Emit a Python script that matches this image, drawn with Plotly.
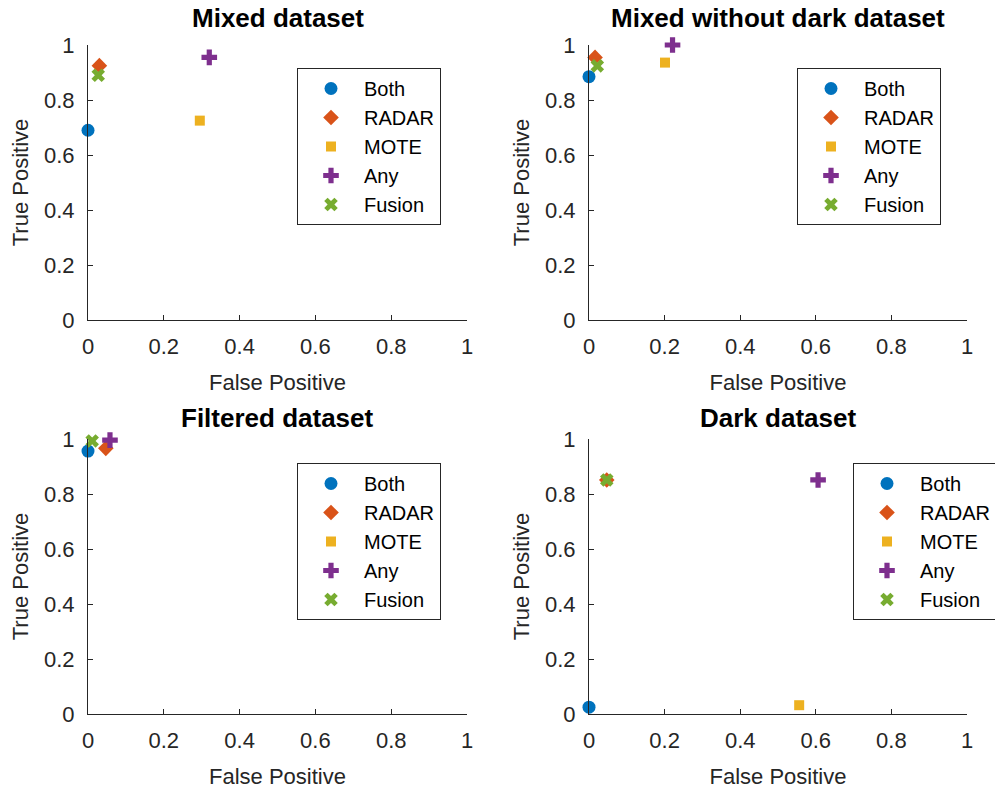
import plotly.graph_objects as go

methods = ["Both", "RADAR", "MOTE", "Any", "Fusion"]
colors = ["#0072BD", "#D95319", "#EDB120", "#7E2F8E", "#77AC30"]
symbols = ["circle", "diamond", "square", "cross", "x"]
msizes = [13, 12, 10, 13, 12]

titles = ["Mixed dataset", "Mixed without dark dataset", "Filtered dataset", "Dark dataset"]

fp_mixed = [0.0, 0.030, 0.295, 0.320, 0.027]
tp_mixed = [0.690, 0.925, 0.725, 0.955, 0.890]

fp_mixed_nodark = [0.0, 0.016, 0.201, 0.221, 0.022]
tp_mixed_nodark = [0.885, 0.955, 0.936, 1.0, 0.924]

fp_filtered = [0.0, 0.047, None, 0.058, 0.011]
tp_filtered = [0.956, 0.966, None, 0.996, 0.993]

fp_dark = [0.0, 0.047, 0.556, 0.606, 0.047]
tp_dark = [0.025, 0.851, 0.032, 0.851, 0.851]

tick_vals = [0, 0.2, 0.4, 0.6, 0.8, 1]
tick_text = ["0", "0.2", "0.4", "0.6", "0.8", "1"]

datasets = [(fp_mixed, tp_mixed), (fp_mixed_nodark, tp_mixed_nodark),
            (fp_filtered, tp_filtered), (fp_dark, tp_dark)]

W, H = 995, 792
# axes pixel boxes: (x0, x1, ytop, ybottom)
boxes = [(88, 467, 45, 320), (589, 967, 45, 320), (88, 467, 439, 714), (589, 967, 439, 714)]
legend_pos = [(297, 68), (797, 68), (297, 463), (853, 463)]

FONT = "Liberation Sans, Arial, Helvetica, sans-serif"
AX = "#262626"

fig = go.Figure()
layout = dict(width=W, height=H, margin=dict(l=0, r=0, t=0, b=0, autoexpand=False),
              paper_bgcolor="white", plot_bgcolor="white",
              font=dict(family=FONT, color=AX), annotations=[])

for i, ((fp, tp), title) in enumerate(zip(datasets, titles)):
    n = "" if i == 0 else str(i + 1)
    lg = "legend" + n
    for j, m in enumerate(methods):
        fig.add_trace(go.Scatter(
            x=[fp[j]], y=[tp[j]], mode="markers", name=m,
            marker=dict(symbol=symbols[j], color=colors[j], size=msizes[j], line=dict(width=0)),
            xaxis="x" + n, yaxis="y" + n, legend=lg, legendgroup=f"{i}_{m}",
            cliponaxis=False, showlegend=True))
    x0, x1, yt, yb = boxes[i]
    axcommon = dict(range=[0, 1], tickvals=tick_vals, ticktext=tick_text,
                    showline=True, linecolor=AX, linewidth=1, mirror=False,
                    ticks="inside", ticklen=5, tickcolor=AX, showgrid=False,
                    zeroline=False, tickfont=dict(size=22, color=AX, family=FONT),
                    fixedrange=True, automargin=False)
    layout["xaxis" + n] = dict(axcommon, domain=[x0 / W, x1 / W], anchor="y" + n,
                               ticklabelstandoff=7,
                               title=dict(text="False Positive", font=dict(size=22, color=AX), standoff=16))
    layout["yaxis" + n] = dict(axcommon, domain=[1 - yb / H, 1 - yt / H], anchor="x" + n,
                               ticklabelstandoff=8,
                               title=dict(text="True Positive", font=dict(size=22, color=AX), standoff=9))
    lx, ly = legend_pos[i]
    layout[lg] = dict(x=lx / W, y=1 - ly / H, xanchor="left", yanchor="top",
                      bgcolor="white", bordercolor=AX, borderwidth=1,
                      font=dict(size=20, color="black", family=FONT),
                      tracegroupgap=0, itemwidth=56)
    layout["annotations"].append(dict(
        text="<b>" + title + "</b>", x=(x0 + x1) / 2 / W, y=1 - (18 if i < 2 else 418) / H,
        xref="paper", yref="paper", showarrow=False, xanchor="center", yanchor="middle",
        font=dict(size=26, color="black", family=FONT)))

fig.update_layout(**layout)
fig.write_html("out.html", config={"displayModeBar": False},
               post_script="document.body.style.margin='0';document.body.style.overflow='hidden';")
